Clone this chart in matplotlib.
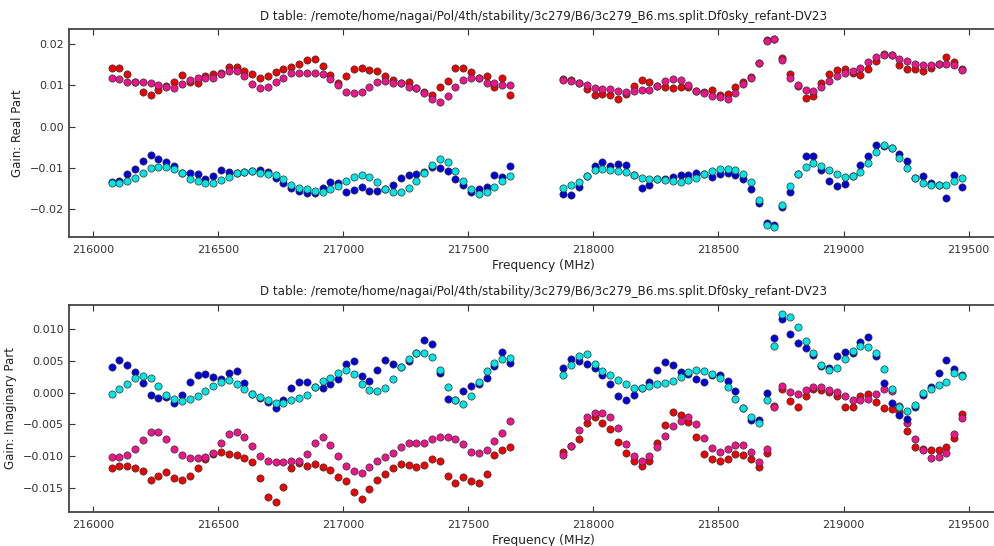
"""D-term gain plot, real and imaginary parts vs frequency."""

import numpy as np
import matplotlib
matplotlib.use('Agg')
import matplotlib.pyplot as plt

title = 'D table: /remote/home/nagai/Pol/4th/stability/3c279/B6/3c279_B6.ms.split.Df0sky_refant-DV23'

# channel grid of the two spectral windows
chan_width = 31.25
spw0_start = 216073.0
spw1_start = 217880.0
n_chan = 52

# real part (units of 0.01)
real_red_0 = [1.41, 1.43, 1.27, 1.08, 0.85, 0.76, 0.89, 0.99, 1.09, 1.24, 1.09, 1.06, 1.23,
              1.27, 1.31, 1.44, 1.44, 1.36, 1.28, 1.18, 1.22, 1.32, 1.40, 1.45, 1.53, 1.62,
              1.64, 1.48, 1.25, 1.06, 1.23, 1.39, 1.41, 1.37, 1.35, 1.23, 1.13, 1.05, 1.08,
              0.93, 0.85, 0.77, 0.95, 1.10, 1.41, 1.41, 1.33, 1.19, 1.23, 0.97, 1.19, 0.77]
real_pink_0 = [1.19, 1.15, 1.09, 1.08, 1.09, 1.06, 1.01, 0.97, 0.94, 1.03, 1.13, 1.19, 1.19,
               1.19, 1.27, 1.35, 1.35, 1.22, 1.03, 0.94, 0.97, 1.08, 1.19, 1.30, 1.30, 1.30,
               1.29, 1.27, 1.16, 1.00, 0.85, 0.81, 0.85, 0.97, 1.09, 1.10, 1.06, 1.05, 0.97,
               0.93, 0.81, 0.66, 0.60, 0.74, 0.95, 1.13, 1.19, 1.17, 1.06, 1.05, 1.01, 1.01]
real_blue_0 = [-1.35, -1.31, -1.15, -1.02, -0.83, -0.69, -0.77, -0.85, -0.94, -1.13, -1.13,
               -1.15, -1.27, -1.19, -1.06, -1.10, -1.13, -1.10, -1.07, -1.06, -1.10, -1.23,
               -1.37, -1.49, -1.55, -1.60, -1.60, -1.48, -1.34, -1.36, -1.59, -1.53, -1.46,
               -1.55, -1.56, -1.50, -1.42, -1.25, -1.17, -1.15, -1.09, -0.97, -1.01, -1.07,
               -1.26, -1.42, -1.58, -1.51, -1.47, -1.18, -1.21, -0.94]
real_cyan_0 = [-1.36, -1.36, -1.31, -1.23, -1.13, -1.00, -0.97, -0.98, -1.03, -1.13, -1.26,
               -1.32, -1.36, -1.36, -1.30, -1.21, -1.13, -1.10, -1.07, -1.11, -1.15, -1.18,
               -1.27, -1.40, -1.49, -1.51, -1.56, -1.57, -1.50, -1.43, -1.31, -1.21, -1.17,
               -1.21, -1.35, -1.50, -1.57, -1.59, -1.48, -1.31, -1.13, -0.93, -0.79, -0.85,
               -1.07, -1.31, -1.52, -1.63, -1.57, -1.46, -1.31, -1.19]

real_red_1 = [1.15, 1.12, 1.06, 0.91, 0.77, 0.78, 0.77, 0.68, 0.79, 0.99, 1.13, 1.08, 0.99,
              0.95, 0.94, 0.95, 0.97, 0.87, 0.85, 0.90, 0.77, 0.79, 0.95, 1.08, 1.21, 1.55,
              2.10, 2.13, 1.66, 1.27, 0.99, 0.70, 0.74, 1.07, 1.27, 1.37, 1.39, 1.29, 1.25,
              1.39, 1.58, 1.77, 1.73, 1.49, 1.39, 1.39, 1.35, 1.41, 1.53, 1.68, 1.57, 1.39]
real_pink_1 = [1.12, 1.10, 1.06, 1.01, 0.93, 0.91, 0.91, 0.86, 0.85, 0.87, 0.90, 0.90, 0.99,
               1.10, 1.16, 1.14, 1.02, 0.87, 0.81, 0.74, 0.71, 0.67, 0.82, 1.03, 1.19, 1.55,
               2.08, 2.13, 1.61, 1.19, 1.01, 0.89, 0.86, 0.95, 1.11, 1.23, 1.29, 1.35, 1.43,
               1.56, 1.69, 1.74, 1.73, 1.65, 1.60, 1.51, 1.49, 1.49, 1.53, 1.52, 1.49, 1.37]
real_blue_1 = [-1.63, -1.65, -1.46, -1.19, -0.94, -0.86, -0.94, -0.90, -0.92, -1.18, -1.48,
               -1.42, -1.26, -1.26, -1.22, -1.16, -1.17, -1.11, -1.15, -1.21, -1.15, -1.13,
               -1.17, -1.27, -1.50, -1.85, -2.32, -2.38, -1.95, -1.57, -1.14, -0.71, -0.70,
               -1.05, -1.32, -1.44, -1.39, -1.19, -0.93, -0.71, -0.44, -0.47, -0.51, -0.65,
               -0.84, -1.24, -1.19, -1.37, -1.41, -1.73, -1.17, -1.47]
real_cyan_1 = [-1.48, -1.42, -1.33, -1.19, -1.06, -1.02, -1.05, -1.07, -1.09, -1.18, -1.25,
               -1.26, -1.26, -1.28, -1.32, -1.33, -1.29, -1.23, -1.15, -1.08, -1.02, -1.02,
               -1.05, -1.15, -1.34, -1.77, -2.37, -2.44, -1.90, -1.43, -1.14, -0.97, -0.89,
               -0.94, -1.04, -1.15, -1.21, -1.19, -1.10, -0.89, -0.61, -0.44, -0.51, -0.75,
               -1.01, -1.24, -1.36, -1.41, -1.41, -1.41, -1.31, -1.23]

# imaginary part (units of 0.001)
imag_red_0 = [-11.95, -11.5, -11.5, -11.8, -12.3, -13.7, -13.1, -12.5, -13.4, -13.7, -13.1,
              -11.95, -10.5, -9.74, -9.37, -9.63, -9.84, -10.3, -11.0, -13.5, -16.4, -17.3,
              -14.9, -11.95, -11.1, -11.5, -11.26, -11.68, -12.2, -13.26, -13.9, -15.7, -16.8,
              -15.2, -13.7, -12.8, -11.95, -11.2, -11.4, -11.7, -11.4, -10.5, -10.7, -13.1,
              -14.2, -13.3, -13.9, -14.2, -12.8, -9.9, -9.1, -8.5]
imag_pink_0 = [-10.1, -10.1, -9.84, -8.95, -7.47, -6.2, -6.2, -7.26, -8.95, -9.9, -10.3,
               -10.3, -10.1, -9.47, -8.0, -6.53, -6.2, -6.95, -8.37, -10.0, -10.8, -10.9,
               -10.9, -10.8, -10.8, -9.74, -7.89, -7.05, -8.32, -10.0, -11.5, -12.3, -12.6,
               -11.7, -10.7, -10.2, -9.53, -8.53, -7.89, -8.0, -7.89, -7.26, -6.95, -6.95,
               -7.32, -8.1, -9.37, -9.58, -9.05, -7.58, -6.42, -4.47]
imag_blue_0 = [4.0, 5.1, 4.4, 3.26, 1.58, -0.42, -0.84, -0.68, -1.68, -0.42, 1.74, 2.79, 3.0,
               2.53, 2.16, 3.1, 3.37, 1.47, -0.16, -0.84, -1.53, -2.42, -1.21, 0.79, 1.74, 1.63,
               0.84, 0.79, 1.42, 2.11, 4.58, 5.0, 2.68, 1.89, 3.63, 5.11, 4.58, 4.0, 5.05, 6.26,
               8.37, 7.74, 3.11, -1.05, -1.21, 0.26, 1.11, 1.32, 2.32, 4.26, 6.47, 4.74]
imag_cyan_0 = [-0.16, 0.63, 1.42, 2.26, 2.63, 2.26, 1.05, -0.32, -1.0, -1.32, -1.05, -0.47,
               0.26, 1.05, 1.74, 2.0, 1.42, 0.63, -0.16, -0.68, -1.21, -1.63, -1.63, -1.21,
               -0.84, -0.32, 0.89, 1.89, 2.37, 3.11, 3.58, 2.95, 1.37, 0.42, 0.26, 0.79, 2.16,
               4.0, 5.37, 6.26, 6.32, 5.68, 3.58, 0.95, -1.21, -1.74, -0.53, 1.74, 3.47, 4.74,
               5.26, 5.53]

imag_red_1 = [-9.37, -8.4, -7.32, -4.74, -3.84, -4.74, -5.68, -7.74, -9.53, -10.84, -11.5,
              -10.7, -8.0, -5.05, -3.1, -3.58, -4.68, -7.0, -9.63, -10.5, -10.84, -10.5, -9.63,
              -9.9, -10.4, -11.7, -9.47, -2.1, 0.63, -1.37, -2.21, -0.53, 0.53, 0.42, 0.11,
              -0.53, -2.21, -2.32, -0.53, -0.21, -1.47, -2.47, -2.58, -3.1, -6.1, -8.53, -8.95,
              -9.05, -9.05, -8.63, -7.21, -3.37]
imag_pink_1 = [-9.9, -8.37, -5.95, -3.79, -3.26, -3.26, -3.79, -5.53, -8.1, -10.0, -10.7,
               -9.95, -8.53, -6.79, -5.26, -4.42, -3.89, -4.89, -7.16, -8.79, -9.37, -8.95,
               -8.26, -8.26, -9.37, -11.0, -8.95, -2.21, 1.05, 0.11, -0.21, 0.42, 0.95, 0.95,
               0.42, 0.11, -0.47, -1.16, -1.16, -1.05, -0.21, 0.53, 0.26, -2.1, -4.74, -7.32,
               -9.05, -10.26, -10.1, -9.58, -6.53, -4.0]
imag_blue_1 = [3.89, 5.37, 4.95, 4.53, 3.84, 2.79, 1.32, -0.58, -1.21, -0.32, 0.68, 1.74, 3.63,
               4.84, 4.42, 3.21, 2.95, 2.16, 1.74, 2.79, 2.79, 1.89, 0.26, -2.42, -4.26, -4.37,
               -0.05, 8.58, 11.58, 9.21, 7.79, 7.1, 6.0, 4.2, 3.84, 5.79, 6.47, 6.32, 7.95, 8.74,
               5.79, 1.47, -1.68, -3.53, -4.1, -2.32, -0.37, 0.95, 3.05, 5.1, 3.68, 2.79]
imag_cyan_1 = [2.79, 4.42, 5.79, 6.1, 4.58, 3.37, 2.79, 2.0, 1.32, 0.79, 0.68, 1.05, 1.42, 1.58,
               1.84, 2.53, 3.32, 3.58, 3.37, 3.0, 2.32, 0.89, -0.95, -2.42, -3.84, -4.74, -1.1,
               7.42, 12.42, 12.0, 10.42, 8.2, 6.2, 4.3, 3.58, 3.89, 5.26, 6.63, 7.42, 7.26, 6.32,
               3.74, 0.53, -2.21, -2.84, -1.95, -0.1, 0.53, 1.21, 1.63, 3.16, 2.68]

colors = {'red': '#f00000', 'pink': '#f0148c', 'blue': '#0000dc', 'cyan': '#00e6e6'}


def main():
    fig = plt.figure(figsize=(9.94, 5.46), dpi=100)
    fig.patch.set_facecolor('white')

    freq0 = spw0_start + chan_width * np.arange(n_chan)
    freq1 = spw1_start + chan_width * np.arange(n_chan)

    ax_re = fig.add_axes([0.0697, 0.5665, 0.955, 0.3798])
    ax_im = fig.add_axes([0.0697, 0.0628, 0.955, 0.3786])

    panels = [
        (ax_re, 0.01, [real_red_0, real_pink_0, real_blue_0, real_cyan_0],
         [real_red_1, real_pink_1, real_blue_1, real_cyan_1],
         'Gain: Real Part', (-0.02663, 0.02358), [-0.02, -0.01, 0.0, 0.01, 0.02], '%.2f'),
        (ax_im, 0.001, [imag_red_0, imag_pink_0, imag_blue_0, imag_cyan_0],
         [imag_red_1, imag_pink_1, imag_blue_1, imag_cyan_1],
         'Gain: Imaginary Part', (-0.01877, 0.01383),
         [-0.015, -0.010, -0.005, 0.0, 0.005, 0.010], '%.3f'),
    ]

    for ax, scale, spw0, spw1, ylabel, ylim, yticks, fmt in panels:
        for name, v0, v1 in zip(['red', 'pink', 'blue', 'cyan'], spw0, spw1):
            ax.plot(freq0, np.array(v0) * scale, 'o', color=colors[name], ms=5.2,
                    mec='#333333', mew=0.5)
            ax.plot(freq1, np.array(v1) * scale, 'o', color=colors[name], ms=5.2,
                    mec='#333333', mew=0.5)
        ax.set_xlim(215904, 219700)
        ax.set_ylim(*ylim)
        ax.set_xticks([216000, 216500, 217000, 217500, 218000, 218500, 219000, 219500])
        ax.set_xticklabels(['%d' % t for t in ax.get_xticks()])
        ax.set_yticks(yticks)
        ax.set_yticklabels([(fmt % t).replace('-', '\u2212') for t in yticks])
        ax.tick_params(direction='in', length=4, width=0.8, colors='#333333',
                       labelsize=8, top=True, right=True)
        ax.tick_params(axis='x', pad=6)
        ax.tick_params(axis='y', pad=4)
        for sp in ax.spines.values():
            sp.set_linewidth(1.3)
            sp.set_color('#444444')
        ax.set_title(title, fontsize=8.6, color='#222222', pad=7)
        ax.set_xlabel('Frequency (MHz)', fontsize=8.8, color='#222222', labelpad=3)
        ax.set_ylabel(ylabel, fontsize=8.5, color='#222222', labelpad=4)

    plt.savefig('out.png', dpi=100, facecolor='white')


if __name__ == "__main__":
    main()
